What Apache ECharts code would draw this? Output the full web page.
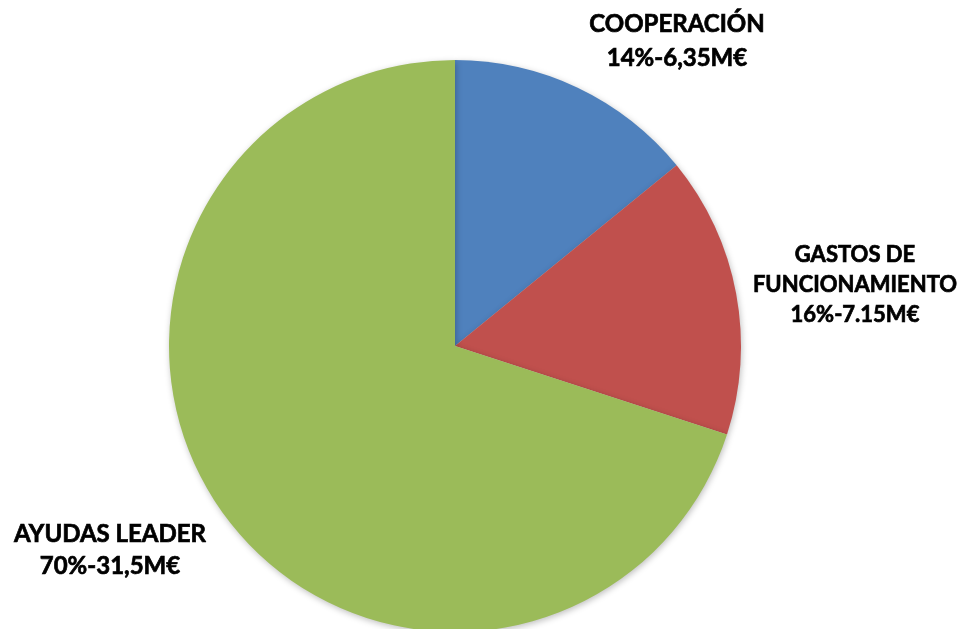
<!DOCTYPE html>
<html>
<head>
<meta charset="utf-8">
<script src="https://cdn.jsdelivr.net/npm/echarts@6/dist/echarts.min.js"></script>
<style>
  * { margin: 0; padding: 0; }
  html, body { background: #fff; }
</style>
</head>
<body>
<div id="chart" style="width: 959px;height: 629px;"></div>
<script>
// data
var names = ['COOPERACIÓN', 'GASTOS DE\nFUNCIONAMIENTO', 'AYUDAS LEADER'];
var values = [6.35, 7.15, 31.5];
var pcts = ['14%', '16%', '70%'];
var valueTexts = ['6,35M€', '7.15M€', '31,5M€'];
var colors = ['#4F81BD', '#C0504D', '#9BBB59'];

// label anchor points (centre of each text block)
var labelPos = [[677, 41], [855, 285], [110, 550]];
var labelSize = [24, 22, 24];
var labelLH = [34, 30, 32];

var chart = echarts.init(document.getElementById('chart'));
var data = [];
for (var i = 0; i < names.length; i++) {
  data.push({
    name: names[i],
    value: values[i],
    itemStyle: { color: colors[i] },
    label: { fontSize: labelSize[i], lineHeight: labelLH[i] }
  });
}

chart.setOption({
  animation: false,
  series: [{
    type: 'pie',
    center: [455, 346],
    radius: [0, 286],
    startAngle: 90,
    clockwise: true,
    data: data,
    itemStyle: {
      borderWidth: 0,
      shadowBlur: 6,
      shadowColor: 'rgba(0,0,0,0.25)',
      shadowOffsetX: 1,
      shadowOffsetY: 2
    },
    label: {
      show: true,
      position: 'outside',
      overflow: 'none',
      fontFamily: 'Lato',
      fontWeight: 'bold',
      color: '#000',
      textBorderColor: '#000',
      textBorderWidth: 0.7,
      align: 'center',
      formatter: function (p) {
        return p.name + '\n' + pcts[p.dataIndex] + '-' + valueTexts[p.dataIndex];
      }
    },
    labelLine: { show: false },
    labelLayout: function (p) {
      var pos = labelPos[p.dataIndex];
      return { x: pos[0], y: pos[1], align: 'center', verticalAlign: 'middle' };
    }
  }]
});
</script>
</body>
</html>
